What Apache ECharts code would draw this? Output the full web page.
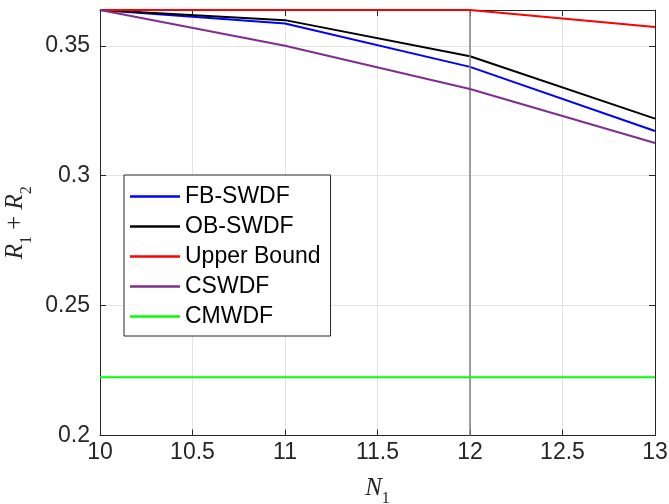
<!DOCTYPE html>
<html>
<head>
<meta charset="utf-8">
<script src="https://cdn.jsdelivr.net/npm/echarts@6/dist/echarts.min.js"></script>
<style>html,body{margin:0;padding:0;background:#fff}#c{width:669px;height:504px}</style>
</head>
<body>
<div id="c"></div>
<script>
const xValues = [10, 11, 12, 13];
const fbSWDF = [0.3638, 0.3586, 0.3419, 0.3172];
const obSWDF = [0.3638, 0.3599, 0.3460, 0.3220];
const upperBound = [0.3638, 0.3638, 0.3638, 0.3573];
const cSWDF = [0.3638, 0.3500, 0.3334, 0.3126];
const cMWDF = [0.2224, 0.2224, 0.2224, 0.2224];
const seriesNames = ['FB-SWDF', 'OB-SWDF', 'Upper Bound', 'CSWDF', 'CMWDF'];
const seriesColors = ['#0000ff', '#000000', '#ff0000', '#7e2f8e', '#00ff00'];
const verticalLineX = 12;
const yMin = 0.2, yMax = 0.3638, xMin = 10, xMax = 13;

const allData = [fbSWDF, obSWDF, upperBound, cSWDF, cMWDF];
const font = 'Liberation Sans, Arial, Helvetica, sans-serif';
const axisColor = '#262626';

const series = allData.map((d, i) => ({
  name: seriesNames[i],
  type: 'line',
  data: xValues.map((x, j) => [x, d[j]]),
  symbol: 'none',
  clip: false,
  lineStyle: { color: seriesColors[i], width: 2 },
  itemStyle: { color: seriesColors[i] },
  z: 3 + i,
  animation: false
}));
series[4].markLine = {
  silent: true,
  symbol: 'none',
  label: { show: false },
  lineStyle: { color: '#808080', type: 'solid', width: 1.5 },
  data: [{ xAxis: verticalLineX }],
  animation: false
};

const nameRich = {
  i: { fontFamily: 'Liberation Serif, DejaVu Serif, serif', fontStyle: 'italic', fontSize: 25, color: axisColor },
  s: { fontFamily: 'Liberation Serif, DejaVu Serif, serif', fontSize: 16, color: axisColor, verticalAlign: 'bottom', padding: [0, 0, -6, 0] },
  n: { fontFamily: 'Liberation Serif, DejaVu Serif, serif', fontSize: 25, color: axisColor }
};

const chart = echarts.init(document.getElementById('c'));
chart.setOption({
  animation: false,
  backgroundColor: '#fff',
  grid: { left: 100, right: 14, top: 10, bottom: 68.5, containLabel: false, outerBoundsMode: 'none' },
  legend: {
    orient: 'vertical',
    left: 124,
    top: 175,
    data: seriesNames.map(n => ({ name: n, icon: 'rect' })),
    backgroundColor: '#fff',
    borderColor: axisColor,
    borderWidth: 1,
    padding: [10, 10, 8, 6],
    itemWidth: 50,
    itemHeight: 2.5,
    itemGap: 7,
    textStyle: { fontFamily: font, fontSize: 23, color: '#000', lineHeight: 22 },
    selectedMode: false
  },
  xAxis: [{
    type: 'value', min: xMin, max: xMax, interval: 0.5,
    name: '{i|N}{s|1}', nameLocation: 'middle', nameGap: 40,
    nameTextStyle: { rich: nameRich },
    axisLine: { show: true, lineStyle: { color: axisColor, width: 1 } },
    axisTick: { show: true, inside: true, length: 6, lineStyle: { color: axisColor } },
    axisLabel: { fontFamily: font, fontSize: 23, color: axisColor, margin: 6 },
    splitLine: { show: true, lineStyle: { color: '#e3e3e3', width: 1 } }
  }, {
    type: 'value', min: xMin, max: xMax, interval: 0.5, position: 'top',
    axisLine: { show: true, lineStyle: { color: axisColor, width: 1 } },
    axisTick: { show: true, inside: true, length: 6, lineStyle: { color: axisColor } },
    axisLabel: { show: false }, splitLine: { show: false }
  }],
  yAxis: [{
    type: 'value', min: yMin, max: yMax, interval: 0.05,
    name: '{i|R}{s|1}{n| + }{i|R}{s|2}', nameLocation: 'middle', nameGap: 64,
    nameTextStyle: { rich: nameRich },
    axisLine: { show: true, lineStyle: { color: axisColor, width: 1 } },
    axisTick: { show: true, inside: true, length: 6, lineStyle: { color: axisColor } },
    axisLabel: { fontFamily: font, fontSize: 23, color: axisColor, margin: 10, showMaxLabel: false },
    splitLine: { show: true, lineStyle: { color: '#e3e3e3', width: 1 } }
  }, {
    type: 'value', min: yMin, max: yMax, interval: 0.05, position: 'right',
    axisLine: { show: true, lineStyle: { color: axisColor, width: 1 } },
    axisTick: { show: true, inside: true, length: 6, lineStyle: { color: axisColor } },
    axisLabel: { show: false }, splitLine: { show: false }
  }],
  series: series
});
</script>
</body>
</html>
